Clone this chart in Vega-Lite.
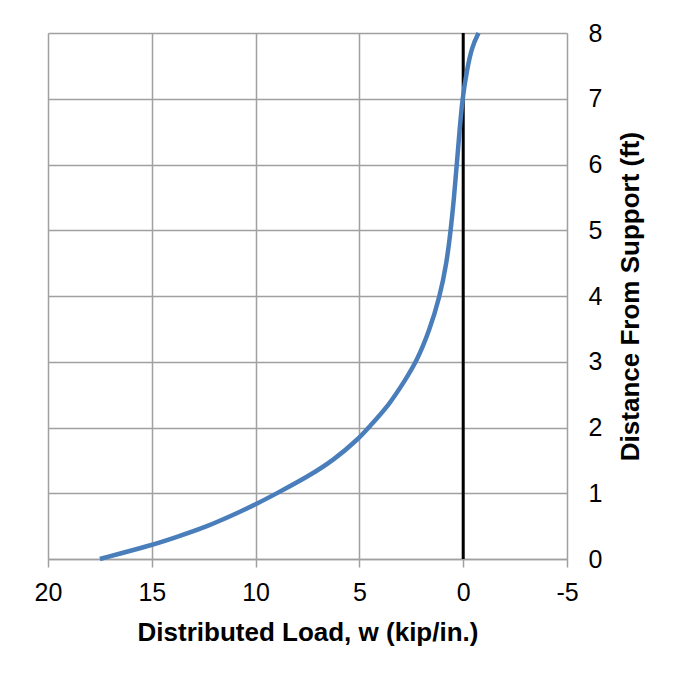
{
  "$schema": "https://vega.github.io/schema/vega-lite/v6.json",
  "width": 519,
  "height": 526,
  "autosize": {"type": "none"},
  "padding": {"left": 48, "top": 33, "right": 110, "bottom": 120},
  "background": "white",
  "config": {
    "view": {"stroke": null},
    "font": "Liberation Sans",
    "axis": {
      "labelFont": "Liberation Sans",
      "titleFont": "Liberation Sans",
      "labelColor": "#000000",
      "titleColor": "#000000",
      "gridColor": "#a0a0a0",
      "gridWidth": 1.5,
      "gridOpacity": 1,
      "domainColor": "#a0a0a0",
      "domainWidth": 1.5,
      "tickColor": "#a0a0a0",
      "tickWidth": 1.5,
      "labelFlush": false
    }
  },
  "datasets": {
    "curve": [
      {"w": 17.5, "d": 0},
      {"w": 15, "d": 0.21},
      {"w": 13.95, "d": 0.32},
      {"w": 12.35, "d": 0.49},
      {"w": 10.74, "d": 0.72},
      {"w": 10, "d": 0.83},
      {"w": 8.97, "d": 1.0},
      {"w": 7.5, "d": 1.25},
      {"w": 6.25, "d": 1.5},
      {"w": 5, "d": 1.84},
      {"w": 4.56, "d": 2.0},
      {"w": 3.55, "d": 2.35},
      {"w": 2.8, "d": 2.72},
      {"w": 2.25, "d": 3.0},
      {"w": 1.62, "d": 3.48},
      {"w": 1.12, "d": 4.0},
      {"w": 0.8, "d": 4.5},
      {"w": 0.6, "d": 5.0},
      {"w": 0.44, "d": 5.5},
      {"w": 0.31, "d": 6.0},
      {"w": 0.18, "d": 6.5},
      {"w": 0.04, "d": 7.0},
      {"w": -0.18, "d": 7.44},
      {"w": -0.42, "d": 7.79},
      {"w": -0.74, "d": 8.0}
    ],
    "zero": [
      {"w": 0, "d": 0},
      {"w": 0, "d": 8}
    ]
  },
  "layer": [
    {
      "data": {"name": "zero"},
      "mark": {"type": "line", "color": "#000000", "strokeWidth": 3},
      "encoding": {
        "x": {
          "field": "w",
          "type": "quantitative",
          "scale": {"domain": [-5, 20], "reverse": true, "nice": false, "zero": false},
          "axis": {
            "orient": "bottom",
            "values": [-5, 0, 5, 10, 15, 20],
            "labelExpr": "datum.value + ''",
            "title": "Distributed Load, w (kip/in.)",
            "labelFontSize": 25,
            "titleFontSize": 26,
            "titleFontWeight": "bold",
            "tickSize": 8,
            "labelPadding": 13,
            "titlePadding": 14,
            "grid": true
          }
        },
        "y": {
          "field": "d",
          "type": "quantitative",
          "scale": {"domain": [0, 8], "nice": false},
          "axis": {
            "orient": "right",
            "values": [0, 1, 2, 3, 4, 5, 6, 7, 8],
            "labelExpr": "datum.value + ''",
            "title": "Distance From Support (ft)",
            "labelFontSize": 25,
            "titleFontSize": 26,
            "titleFontWeight": "bold",
            "ticks": false,
            "domain": false,
            "labelPadding": 21,
            "titlePadding": 16,
            "titleAngle": 270,
            "titleBaseline": "top",
            "grid": true
          }
        },
        "order": {"field": "d", "type": "quantitative"}
      }
    },
    {
      "data": {"name": "curve"},
      "mark": {"type": "line", "color": "#4a7ebb", "strokeWidth": 4.5, "interpolate": "basis"},
      "encoding": {
        "x": {"field": "w", "type": "quantitative"},
        "y": {"field": "d", "type": "quantitative"},
        "order": {"field": "d", "type": "quantitative"}
      }
    }
  ]
}
